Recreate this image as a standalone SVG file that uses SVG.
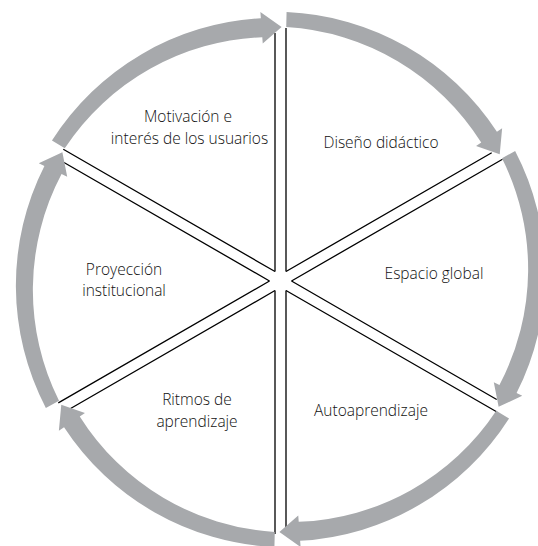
<svg xmlns="http://www.w3.org/2000/svg" width="538" height="546" viewBox="0 0 538 546">
<style>
.sp{stroke:#000;stroke-width:1.3;fill:none}
.ar{fill:#a7a9ac;stroke:none}
.t{font-family:"Open Sans","Noto Sans",sans-serif;font-size:15.5px;font-weight:300;fill:#111;text-anchor:middle}
</style>
<rect width="538" height="546" fill="#fff"/>
<g id="connectors">
<path class="sp" d="M275,271.5V33M286,271.5V28"/>
<path class="sp" d="M286,271.5L491.7,152.7M291.5,281L502.5,159.2"/>
<path class="sp" d="M291.5,281L496.7,399.5M286,290.5L497,412"/>
<path class="sp" d="M275,290.5V534M286,290.5V528"/>
<path class="sp" d="M269.5,281L58.3,402.9M275,290.5L69.3,409.3"/>
<path class="sp" d="M275,271.5L63.3,149.3M269.5,281L64,162.5"/>
</g>
<g id="arrows">
<path id="a1" class="ar" d="M51.96,140.53A265,265 0 0 1 260.86,18.24L260.38,11.96L281.6,27L262.75,43.47L262.28,37.19A248,248 0 0 0 64.77,148.32Z"/>
<path id="a2" class="ar" d="M286.57,12.07A265,265 0 0 1 496.94,131.86L502.14,128.3L499.72,154.2L476.04,146.11L481.24,142.56A248,248 0 0 0 286.23,27.07Z"/>
<path id="a3" class="ar" d="M515.14,151.04A265,265 0 0 1 516.58,393.12L522.26,395.85L498.62,406.7L493.79,382.15L499.46,384.88A248,248 0 0 0 501.98,158.24Z"/>
<path id="a4" class="ar" d="M509.04,418.47A265,265 0 0 1 300.14,540.76L300.62,547.04L279.4,532L298.25,515.53L298.72,521.81A248,248 0 0 0 496.23,410.68Z"/>
<path id="a5" class="ar" d="M274.43,546.93A265,265 0 0 1 64.06,427.14L58.86,430.7L61.28,404.8L84.96,412.89L79.76,416.44A248,248 0 0 0 274.77,531.93Z"/>
<path id="a6" class="ar" d="M45.86,407.96A265,265 0 0 1 44.42,165.88L38.74,163.15L62.38,152.3L67.21,176.85L61.54,174.12A248,248 0 0 0 59.02,400.76Z"/>
</g>
<g id="n1"><text class="t" x="188" y="122">Motivación e</text><text class="t" x="189.5" y="143.5">interés de los usuarios</text></g>
<g id="n2"><text class="t" x="381" y="148">Diseño didáctico</text></g>
<g id="n3"><text class="t" x="434" y="279">Espacio global</text></g>
<g id="n4"><text class="t" x="371" y="416">Autoaprendizaje</text></g>
<g id="n5"><text class="t" x="197" y="405">Ritmos de</text><text class="t" x="197" y="427">aprendizaje</text></g>
<g id="n6"><text class="t" x="124" y="275">Proyección</text><text class="t" x="124" y="296">institucional</text></g>
</svg>
